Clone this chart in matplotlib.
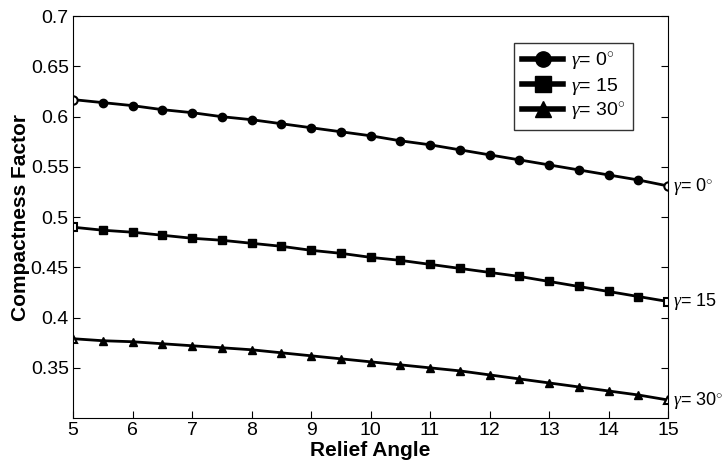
import numpy as np
import matplotlib.pyplot as plt
from matplotlib.lines import Line2D

plt.rcParams['font.family'] = ['Liberation Sans', 'DejaVu Sans']
plt.rcParams['mathtext.fontset'] = 'custom'
plt.rcParams['mathtext.rm'] = 'Liberation Sans'
plt.rcParams['mathtext.it'] = 'Liberation Serif:italic'

angle = [5, 5.5, 6, 6.5, 7, 7.5, 8, 8.5, 9, 9.5, 10, 10.5, 11, 11.5, 12, 12.5, 13, 13.5, 14, 14.5, 15]
cf_g0 = [0.617, 0.614, 0.611, 0.607, 0.604, 0.600, 0.597, 0.593, 0.589, 0.585, 0.581,
         0.576, 0.572, 0.567, 0.562, 0.557, 0.552, 0.547, 0.542, 0.537, 0.531]
cf_g15 = [0.490, 0.487, 0.485, 0.482, 0.479, 0.477, 0.474, 0.471, 0.467, 0.464, 0.460,
          0.457, 0.453, 0.449, 0.445, 0.441, 0.436, 0.431, 0.426, 0.421, 0.416]
cf_g30 = [0.379, 0.377, 0.376, 0.374, 0.372, 0.370, 0.368, 0.365, 0.362, 0.359, 0.356,
          0.353, 0.350, 0.347, 0.343, 0.339, 0.335, 0.331, 0.327, 0.323, 0.318]
labels = [r'$\it{\gamma}$= 0$^{\circ}$', r'$\it{\gamma}$= 15', r'$\it{\gamma}$= 30$^{\circ}$']
markers = ['o', 's', '^']

fig = plt.figure(figsize=(7.23, 4.63), dpi=100)
ax = fig.add_axes([0.101, 0.097, 0.823, 0.868])

handles = []
for y, lab, m in zip([cf_g0, cf_g15, cf_g30], labels, markers):
    ax.plot(angle, y, color='black', lw=2)
    ax.plot(angle[1:-1], y[1:-1], ls='none', marker=m, ms=6, color='black')
    ax.plot([angle[0], angle[-1]], [y[0], y[-1]], ls='none', marker=m, ms=6,
            mfc='white', mec='black', mew=1.5)
    ax.text(angle[-1] + 0.08, y[-1], lab, fontsize=13, va='center', ha='left', clip_on=False)
    handles.append(Line2D([], [], color='black', lw=4, marker=m, ms=11, label=lab))

leg = ax.legend(handles=handles, loc='upper right', bbox_to_anchor=(0.941, 0.933),
                borderaxespad=0, fontsize=14, frameon=True, fancybox=False, edgecolor='black',
                handlelength=2.1, borderpad=0.4, labelspacing=0.2, handletextpad=0.4)
leg.get_frame().set_linewidth(1)

ax.set_xlim(5, 15)
ax.set_ylim(0.3, 0.7)
ax.set_xticks(np.arange(5, 16, 1))
ax.set_yticks([0.35, 0.4, 0.45, 0.5, 0.55, 0.6, 0.65, 0.7])
ax.set_yticklabels(['0.35', '0.4', '0.45', '0.5', '0.55', '0.6', '0.65', '0.7'])
ax.tick_params(direction='in', labelsize=14, length=5, pad=3, top=False, right=True)
for s in ax.spines.values():
    s.set_linewidth(0.8)
ax.set_xlabel('Relief Angle', fontsize=15, fontweight='bold', labelpad=1)
ax.set_ylabel('Compactness Factor', fontsize=15, fontweight='bold')
ax.yaxis.set_label_coords(-0.072, 0.5)

fig.savefig('out.png', dpi=100)
